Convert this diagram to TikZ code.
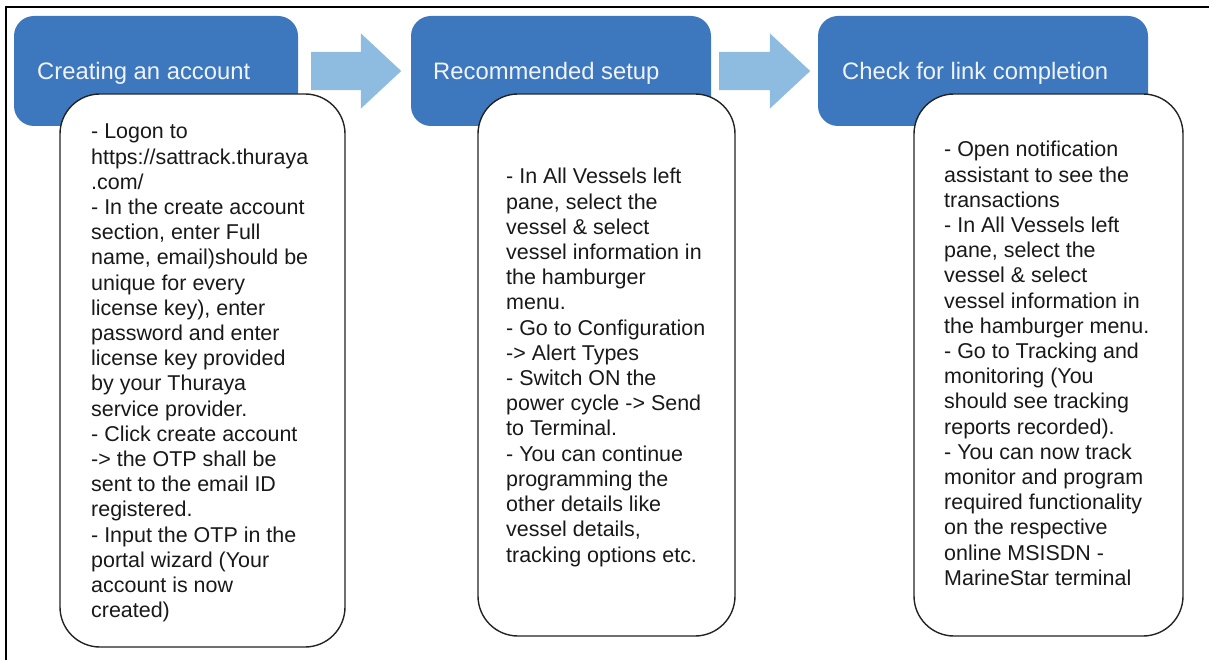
\documentclass[tikz,border=0pt]{standalone}
\usepackage{fontspec}
\setmainfont{Liberation Sans}
\usetikzlibrary{shapes.arrows}
\definecolor{stepblue}{RGB}{61,119,190}
\definecolor{arrowblue}{RGB}{142,188,225}
\definecolor{titlewhite}{RGB}{240,244,250}
\definecolor{bodytext}{RGB}{25,25,25}
\definecolor{outline}{RGB}{35,35,35}
\newcommand{\bodyfont}{\fontsize{21.45pt}{25.2pt}\selectfont}
\begin{document}
\begin{tikzpicture}[x=1pt,y=-1pt,
  headbox/.style={draw=none, fill=stepblue, rounded corners=20pt, minimum width=#1, minimum height=110pt, inner sep=0pt},
  notebox/.style={draw=outline, line width=1.4pt, fill=white, rounded corners=40pt, inner sep=0pt},
  headtitle/.style={anchor=base west, inner sep=0pt, text=titlewhite, font=\fontsize{23.8pt}{28pt}\selectfont},
  bodytxt/.style={anchor=base west, inner sep=0pt, text=bodytext, font=\bodyfont},
  blockarrow/.style={single arrow, fill=arrowblue, draw=none, inner xsep=0pt, inner ysep=19pt, single arrow head extend=18.5pt, single arrow tip angle=86, anchor=tail}
]
\useasboundingbox (0,0) rectangle (1209,660);
% frame
\coordinate (fbl) at (6,660);
\coordinate (ftl) at (6,7);
\coordinate (ftr) at (1209,7);
\draw[line width=2pt, black] (fbl) -- (ftl) -- (ftr);

% header boxes
\node[headbox=284pt] (h1) at (156,71) {};
\node[headbox=300pt] (h2) at (561,71) {};
\node[headbox=330pt] (h3) at (983,71) {};
\node[headtitle] (t1) at (37,80) {Creating an account};
\node[headtitle] (t2) at (433,80) {Recommended setup};
\node[headtitle] (t3) at (842,80) {Check for link completion};

% block arrows
\node[blockarrow, minimum height=90pt] (a1) at (311,71) {};
\node[blockarrow, minimum height=91pt] (a2) at (719,71) {};

% note boxes
\node[notebox, minimum width=285pt, minimum height=553pt] (n1) at (202.5,370.5) {};
\node[notebox, minimum width=257pt, minimum height=542pt] (n2) at (606.5,365) {};
\node[notebox, minimum width=269pt, minimum height=542pt] (n3) at (1048.5,365) {};

\node[bodytxt] (b1) at (91,139) {\parbox[t]{300pt}{\bodyfont\raggedright
- Logon to\\
https://sattrack.thuraya\\
.com/\\
- In the create account\\
section, enter Full\\
name, email)should be\\
unique for every\\
license key), enter\\
password and enter\\
license key provided\\
by your Thuraya\\
service provider.\\
- Click create account\\
-> the OTP shall be\\
sent to the email ID\\
registered.\\
- Input the OTP in the\\
portal wizard (Your\\
account is now\\
created)}};

\node[bodytxt] (b2) at (506,184) {\parbox[t]{300pt}{\bodyfont\raggedright
- In All Vessels left\\
pane, select the\\
vessel \& select\\
vessel information in\\
the hamburger\\
menu.\\
- Go to Configuration\\
-> Alert Types\\
- Switch ON the\\
power cycle -> Send\\
to Terminal.\\
- You can continue\\
programming the\\
other details like\\
vessel details,\\
tracking options etc.}};

\node[bodytxt] (b3) at (944,157) {\parbox[t]{300pt}{\bodyfont\raggedright
- Open notification\\
assistant to see the\\
transactions\\
- In All Vessels left\\
pane, select the\\
vessel \& select\\
vessel information in\\
the hamburger menu.\\
- Go to Tracking and\\
monitoring (You\\
should see tracking\\
reports recorded).\\
- You can now track\\
monitor and program\\
required functionality\\
on the respective\\
online MSISDN -\\
MarineStar terminal}};
\end{tikzpicture}
\end{document}
